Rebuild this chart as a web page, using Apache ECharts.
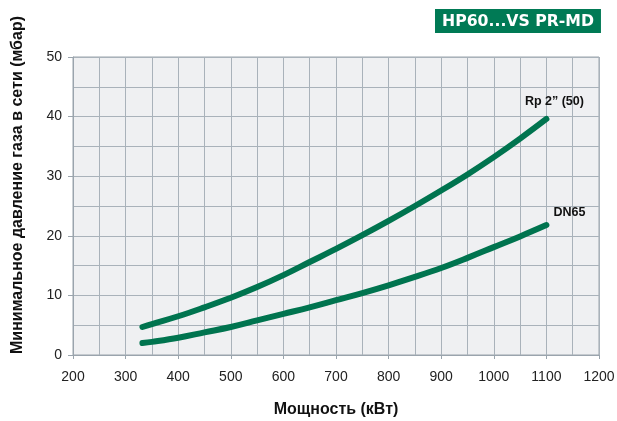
<!DOCTYPE html>
<html><head><meta charset="utf-8">
<script src="https://cdn.jsdelivr.net/npm/echarts@6/dist/echarts.min.js"></script>
<style>html,body{margin:0;padding:0;background:#fff}#c{width:617px;height:421px}</style>
</head><body><div id="c"></div>
<script>
const powerRp = [332, 350, 400, 450, 500, 550, 600, 650, 700, 750, 800, 850, 900, 950, 1000, 1050, 1100];
const pressureRp = [4.7, 5.2, 6.5, 8.0, 9.6, 11.4, 13.4, 15.6, 17.8, 20.1, 22.5, 25.0, 27.6, 30.3, 33.2, 36.3, 39.6];
const powerDN = [332, 350, 400, 450, 500, 550, 600, 650, 700, 750, 800, 850, 900, 950, 1000, 1050, 1100];
const pressureDN = [2.0, 2.2, 2.9, 3.8, 4.7, 5.8, 6.9, 8.0, 9.2, 10.4, 11.7, 13.1, 14.6, 16.3, 18.1, 19.9, 21.8];
const seriesNames = ['Rp 2\u201d (50)', 'DN65'];
const titleText = 'HP60...VS PR-MD';
const xName = 'Мощность (кВт)';
const yName = 'Минимальное давление газа в сети (мбар)';

const green = '#00744f';
const gridColor = '#a9b2ba';
const font = '"Liberation Sans", Arial, sans-serif';

function pairs(xs, ys){ return xs.map((x,i)=>[x, ys[i]]); }
function withEndLabel(data, name, offset){
  const d = data.slice(0, -1);
  const last = data[data.length-1];
  d.push({value: last, label: {show: true, formatter: name, position: 'top', offset: offset,
    fontFamily: font, fontWeight: 'bold', fontSize: 12.5, color: '#111'}});
  return d;
}

const chart = echarts.init(document.getElementById('c'), null, {renderer: 'canvas'});
chart.setOption({
  animation: false,
  backgroundColor: '#fff',
  title: {
    text: titleText, left: 435, top: 9, padding: [4, 7, 3, 7],
    backgroundColor: '#007a55',
    textStyle: {color: '#fff', fontFamily: '"DejaVu Sans", sans-serif', fontWeight: 'bold', fontSize: 15.7, lineHeight: 17}
  },
  grid: {left: 73, right: 18, top: 57, bottom: 66, containLabel: false, outerBoundsMode: 'none',
    show: true, backgroundColor: '#eff0f2', borderColor: '#9aa4ad', borderWidth: 1},
  xAxis: {
    type: 'value', min: 200, max: 1200, interval: 100,
    name: xName, nameLocation: 'middle', nameGap: 47,
    nameTextStyle: {fontFamily: font, fontWeight: 'bold', fontSize: 16, color: '#111'},
    axisLine: {show: true, lineStyle: {color: '#9aa4ad', width: 1}},
    axisTick: {show: true, length: 4, lineStyle: {color: '#9aa4ad'}},
    minorTick: {show: false, splitNumber: 2},
    axisLabel: {margin: 15, fontFamily: font, fontSize: 14, color: '#222', formatter: v => String(v)},
    splitLine: {show: true, lineStyle: {color: gridColor, width: 1}},
    minorSplitLine: {show: true, lineStyle: {color: gridColor, width: 1}}
  },
  yAxis: {
    type: 'value', min: 0, max: 50, interval: 10,
    name: yName, nameLocation: 'middle', nameGap: 47,
    nameTextStyle: {fontFamily: font, fontWeight: 'bold', fontSize: 16, color: '#111', padding: [0, 0, 0, 42]},
    axisLine: {show: true, lineStyle: {color: '#9aa4ad', width: 1}},
    axisTick: {show: true, length: 5, lineStyle: {color: '#9aa4ad'}},
    minorTick: {show: false, splitNumber: 2},
    axisLabel: {margin: 11, fontFamily: font, fontSize: 14, color: '#222', formatter: v => String(v)},
    splitLine: {show: true, lineStyle: {color: gridColor, width: 1}},
    minorSplitLine: {show: true, lineStyle: {color: gridColor, width: 1}}
  },
  series: [
    {type: 'line', name: seriesNames[0], smooth: 0.4, showSymbol: true, symbol: 'circle', symbolSize: 0,
     lineStyle: {color: green, width: 6, cap: 'round'}, itemStyle: {color: green},
     data: withEndLabel(pairs(powerRp, pressureRp), seriesNames[0], [8, -6])},
    {type: 'line', name: seriesNames[1], smooth: 0.4, showSymbol: true, symbol: 'circle', symbolSize: 0,
     lineStyle: {color: green, width: 6, cap: 'round'}, itemStyle: {color: green},
     data: withEndLabel(pairs(powerDN, pressureDN), seriesNames[1], [23, -1])}
  ]
});
</script></body></html>
